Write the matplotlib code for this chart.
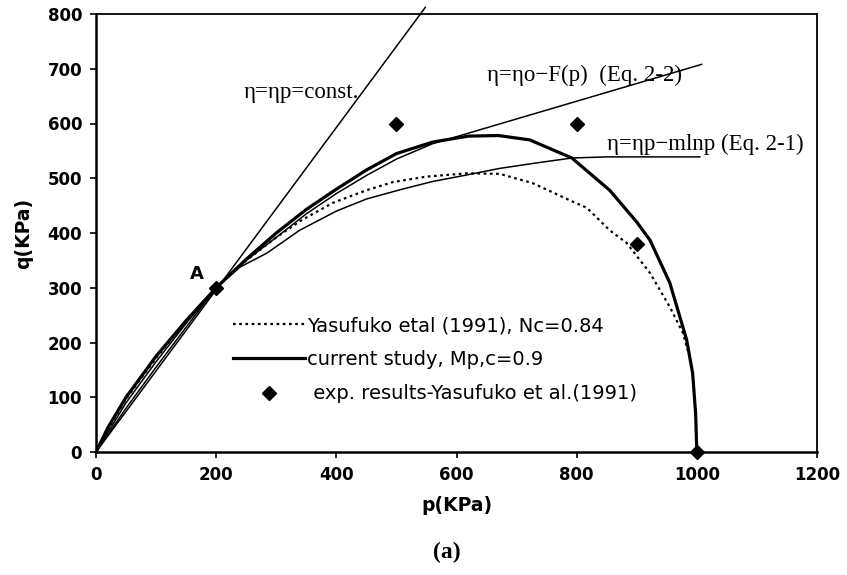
import matplotlib
matplotlib.use("Agg")
import matplotlib.pyplot as plt
from matplotlib.lines import Line2D

# ---------------- data ----------------
const_p = [0, 548]
const_q = [0, 812]

study_p = [0, 20, 50, 100, 150, 200, 250, 300, 350, 400, 450, 500, 560, 620, 670, 722, 792, 855, 900, 922, 955, 983, 993, 998, 1000]
study_q = [0, 45, 100, 175, 240, 300, 352, 400, 443, 480, 515, 545, 566, 577, 578, 570, 537, 478, 420, 387, 309, 205, 144, 70, 0]

yasu_p = [0, 20, 50, 100, 150, 200, 250, 300, 340, 394, 450, 494, 550, 617, 672, 727, 794, 817, 855, 883, 922, 955, 977, 985]
yasu_q = [0, 42, 97, 172, 238, 300, 350, 392, 422, 455, 478, 493, 503, 509, 508, 491, 457, 446, 405, 382, 327, 265, 217, 185]

fp_p = [0, 50, 100, 150, 200, 250, 300, 350, 400, 450, 500, 560, 1008]
fp_q = [0, 90, 165, 235, 300, 350, 392, 435, 472, 505, 535, 563, 708]

minp_p = [0, 50, 100, 150, 200, 240, 284, 339, 400, 450, 506, 560, 617, 672, 727, 792, 850, 1005]
minp_q = [0, 80, 155, 228, 300, 338, 363, 405, 440, 462, 479, 494, 506, 518, 527, 537, 539, 539]

exp_p = [200, 500, 800, 900, 1000]
exp_q = [300, 600, 600, 380, 0]

x_ticks = [0, 200, 400, 600, 800, 1000, 1200]
y_ticks = [0, 100, 200, 300, 400, 500, 600, 700, 800]

legend_labels = ["Yasufuko etal (1991), Nc=0.84",
                 "current study, Mp,c=0.9",
                 " exp. results-Yasufuko et al.(1991)"]

# ---------------- figure ----------------
W, H = 847, 575
fig = plt.figure(figsize=(W / 100, H / 100), dpi=100)
ax = fig.add_axes([96 / W, 1 - 452 / H, (817 - 96) / W, (452 - 14) / H])

sans = "DejaVu Sans"
serif = "Liberation Serif"

ax.plot(const_p, const_q, color="black", lw=1.1, clip_on=False, zorder=3)
ax.plot(fp_p, fp_q, color="black", lw=1.1, zorder=3)
ax.plot(minp_p, minp_q, color="black", lw=1.1, zorder=3)
ax.plot(yasu_p, yasu_q, color="black", lw=1.6, linestyle=(0, (1.2, 1.6)), zorder=4)
ax.plot(study_p, study_q, color="black", lw=2.3, zorder=5)
ax.plot(exp_p, exp_q, linestyle="none", marker="D", ms=7.5, color="black", zorder=6, clip_on=False)

ax.set_xlim(0, 1200)
ax.set_ylim(0, 800)
ax.set_xticks(x_ticks)
ax.set_yticks(y_ticks)
ax.set_xticklabels([str(v) for v in x_ticks], fontfamily=sans, fontweight="bold", fontsize=12)
ax.set_yticklabels([str(v) for v in y_ticks], fontfamily=sans, fontweight="bold", fontsize=12)
ax.tick_params(axis="both", direction="out", length=4, width=1.2, pad=6)

for s in ax.spines.values():
    s.set_linewidth(1.3)
    s.set_color("black")
ax.spines["left"].set_linewidth(1.8)
ax.spines["bottom"].set_linewidth(1.8)

ax.set_xlabel("p(KPa)", fontfamily=sans, fontweight="bold", fontsize=13.5, labelpad=9)
ax.set_ylabel("q(KPa)", fontfamily=sans, fontweight="bold", fontsize=13.5, labelpad=10)

# annotations
ax.text(245, 656, "η=ηp=const.", fontfamily=serif, fontsize=16.5, va="center", ha="left")
ax.text(650, 688, "η=ηo−F(p)  (Eq. 2-2)", fontfamily=serif, fontsize=16.5, va="center", ha="left")
ax.text(850, 561, "η=ηp−mlnp (Eq. 2-1)", fontfamily=serif, fontsize=16.5, va="center", ha="left")
ax.text(168, 325, "A", fontfamily=sans, fontweight="bold", fontsize=13, va="center", ha="center")

handles = [Line2D([], [], color="black", lw=1.6, linestyle=(0, (1.2, 1.6))),
           Line2D([], [], color="black", lw=2.3),
           Line2D([], [], color="black", marker="D", ms=7.5, linestyle="none")]
leg = ax.legend(handles, legend_labels, loc="upper left",
                bbox_to_anchor=((233 - 96) / 721, (452 - 316) / 438),
                frameon=False, prop={"family": sans, "size": 14},
                handlelength=3.7, handletextpad=0.1, labelspacing=0.78,
                borderpad=0, borderaxespad=0)

fig.text(447 / W, 1 - 552 / H, "(a)", fontfamily=serif, fontweight="bold", fontsize=17,
         ha="center", va="center")

fig.savefig("out.png", dpi=100)
